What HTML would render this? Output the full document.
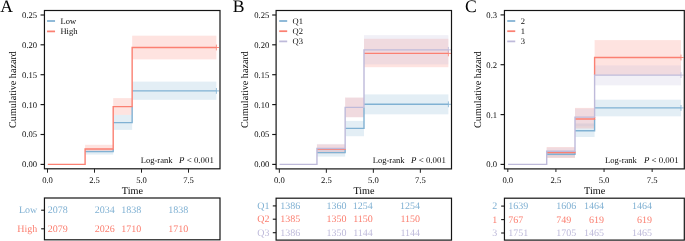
<!DOCTYPE html>
<html><head><meta charset="utf-8"><title>Cumulative hazard</title>
<style>
html,body{margin:0;padding:0;background:#fff;}
body{width:685px;height:241px;overflow:hidden;font-family:"Liberation Serif",serif;}
svg{display:block;will-change:transform;transform:translateZ(0);}
text{text-rendering:geometricPrecision;}
</style></head><body>
<svg width="685" height="241" viewBox="0 0 685 241">
<rect x="0" y="0" width="685" height="241" fill="#ffffff"/>
<rect x="85.10" y="149.00" width="28.10" height="5.60" fill="#80B1D3" fill-opacity="0.22"/>
<rect x="113.20" y="114.90" width="18.95" height="15.00" fill="#80B1D3" fill-opacity="0.22"/>
<rect x="132.15" y="81.60" width="84.25" height="18.20" fill="#80B1D3" fill-opacity="0.22"/>
<rect x="85.10" y="144.80" width="28.10" height="6.80" fill="#FB8072" fill-opacity="0.22"/>
<rect x="113.20" y="98.10" width="18.95" height="16.80" fill="#FB8072" fill-opacity="0.22"/>
<rect x="132.15" y="35.70" width="84.25" height="23.70" fill="#FB8072" fill-opacity="0.22"/>
<path d="M85.10,151.60 H113.20 V148.95 M113.20,122.60 H132.15 V106.60 M132.15,90.90 H216.40" fill="none" stroke="#80B1D3" stroke-width="1.4" stroke-linejoin="miter"/>
<line x1="216.40" x2="216.40" y1="88.00" y2="93.80" stroke="#80B1D3" stroke-width="0.8"/>
<line x1="216.40" x2="219.00" y1="90.90" y2="90.90" stroke="#80B1D3" stroke-width="0.9"/>
<path d="M47.80,164.40 H85.10 V148.95 H113.20 V106.60 H132.15 V47.50 H216.40" fill="none" stroke="#FB8072" stroke-width="1.4" stroke-linejoin="miter"/>
<line x1="216.40" x2="216.40" y1="44.60" y2="50.40" stroke="#FB8072" stroke-width="0.8"/>
<line x1="216.40" x2="219.00" y1="47.50" y2="47.50" stroke="#FB8072" stroke-width="0.9"/>
<rect x="44.45" y="10.50" width="175.55" height="158.30" fill="none" stroke="#151515" stroke-width="1.2"/>
<line x1="40.55" x2="44.45" y1="15.00" y2="15.00" stroke="#151515" stroke-width="1.15"/>
<text x="37.15" y="17.90" text-anchor="end" font-size="8.6" fill="#0a0a0a" font-family="Liberation Serif, serif">0.25</text>
<line x1="40.55" x2="44.45" y1="44.80" y2="44.80" stroke="#151515" stroke-width="1.15"/>
<text x="37.15" y="47.70" text-anchor="end" font-size="8.6" fill="#0a0a0a" font-family="Liberation Serif, serif">0.20</text>
<line x1="40.55" x2="44.45" y1="74.70" y2="74.70" stroke="#151515" stroke-width="1.15"/>
<text x="37.15" y="77.60" text-anchor="end" font-size="8.6" fill="#0a0a0a" font-family="Liberation Serif, serif">0.15</text>
<line x1="40.55" x2="44.45" y1="104.60" y2="104.60" stroke="#151515" stroke-width="1.15"/>
<text x="37.15" y="107.50" text-anchor="end" font-size="8.6" fill="#0a0a0a" font-family="Liberation Serif, serif">0.10</text>
<line x1="40.55" x2="44.45" y1="134.50" y2="134.50" stroke="#151515" stroke-width="1.15"/>
<text x="37.15" y="137.40" text-anchor="end" font-size="8.6" fill="#0a0a0a" font-family="Liberation Serif, serif">0.05</text>
<line x1="40.55" x2="44.45" y1="164.40" y2="164.40" stroke="#151515" stroke-width="1.15"/>
<text x="37.15" y="167.30" text-anchor="end" font-size="8.6" fill="#0a0a0a" font-family="Liberation Serif, serif">0.00</text>
<line x1="47.50" x2="47.50" y1="168.80" y2="172.70" stroke="#222" stroke-width="1.0"/>
<text x="47.50" y="182.7" text-anchor="middle" font-size="8.6" fill="#0a0a0a" font-family="Liberation Serif, serif">0.0</text>
<line x1="94.50" x2="94.50" y1="168.80" y2="172.70" stroke="#222" stroke-width="1.0"/>
<text x="94.50" y="182.7" text-anchor="middle" font-size="8.6" fill="#0a0a0a" font-family="Liberation Serif, serif">2.5</text>
<line x1="141.50" x2="141.50" y1="168.80" y2="172.70" stroke="#222" stroke-width="1.0"/>
<text x="141.50" y="182.7" text-anchor="middle" font-size="8.6" fill="#0a0a0a" font-family="Liberation Serif, serif">5.0</text>
<line x1="188.50" x2="188.50" y1="168.80" y2="172.70" stroke="#222" stroke-width="1.0"/>
<text x="188.50" y="182.7" text-anchor="middle" font-size="8.6" fill="#0a0a0a" font-family="Liberation Serif, serif">7.5</text>
<text x="132.40" y="194.2" text-anchor="middle" font-size="10.2" fill="#050505" font-family="Liberation Serif, serif">Time</text>
<text transform="translate(15.95,89.55) rotate(-90)" text-anchor="middle" font-size="10.15" fill="#050505" font-family="Liberation Serif, serif">Cumulative hazard</text>
<text x="0.20" y="12.3" font-size="17.6" fill="#050505" font-family="Liberation Serif, serif">A</text>
<line x1="47.05" x2="55.05" y1="21.00" y2="21.00" stroke="#80B1D3" stroke-width="1.75"/>
<text x="60.45" y="23.90" font-size="8.5" fill="#0a0a0a" font-family="Liberation Serif, serif">Low</text>
<line x1="47.05" x2="55.05" y1="31.40" y2="31.40" stroke="#FB8072" stroke-width="1.75"/>
<text x="60.45" y="34.30" font-size="8.5" fill="#0a0a0a" font-family="Liberation Serif, serif">High</text>
<text x="140.70" y="162.5" font-size="8.55" fill="#0a0a0a" font-family="Liberation Serif, serif">Log-rank</text>
<text x="179.10" y="162.5" font-size="8.85" fill="#0a0a0a" font-family="Liberation Serif, serif"><tspan font-style="italic">P</tspan> &lt; 0.001</text>
<rect x="44.45" y="198.00" width="175.55" height="41.80" fill="none" stroke="#151515" stroke-width="1.2"/>
<line x1="41.15" x2="44.45" y1="210.20" y2="210.20" stroke="#151515" stroke-width="1.1"/>
<text x="37.25" y="213.40" text-anchor="end" font-size="10" fill="#80B1D3" font-family="Liberation Serif, serif">Low</text>
<text x="47.70" y="213.40" text-anchor="start" font-size="10" fill="#80B1D3" font-family="Liberation Serif, serif">2078</text>
<text x="94.70" y="213.40" text-anchor="start" font-size="10" fill="#80B1D3" font-family="Liberation Serif, serif">2034</text>
<text x="141.30" y="213.40" text-anchor="end" font-size="10" fill="#80B1D3" font-family="Liberation Serif, serif">1838</text>
<text x="188.30" y="213.40" text-anchor="end" font-size="10" fill="#80B1D3" font-family="Liberation Serif, serif">1838</text>
<line x1="41.15" x2="44.45" y1="228.80" y2="228.80" stroke="#151515" stroke-width="1.1"/>
<text x="37.25" y="232.00" text-anchor="end" font-size="10" fill="#FB8072" font-family="Liberation Serif, serif">High</text>
<text x="47.70" y="232.00" text-anchor="start" font-size="10" fill="#FB8072" font-family="Liberation Serif, serif">2079</text>
<text x="94.70" y="232.00" text-anchor="start" font-size="10" fill="#FB8072" font-family="Liberation Serif, serif">2026</text>
<text x="141.30" y="232.00" text-anchor="end" font-size="10" fill="#FB8072" font-family="Liberation Serif, serif">1710</text>
<text x="188.30" y="232.00" text-anchor="end" font-size="10" fill="#FB8072" font-family="Liberation Serif, serif">1710</text>
<rect x="316.95" y="149.20" width="28.20" height="7.40" fill="#80B1D3" fill-opacity="0.22"/>
<rect x="345.15" y="120.90" width="18.85" height="15.30" fill="#80B1D3" fill-opacity="0.22"/>
<rect x="364.00" y="94.40" width="84.40" height="19.90" fill="#80B1D3" fill-opacity="0.22"/>
<rect x="316.95" y="144.50" width="28.20" height="8.90" fill="#FB8072" fill-opacity="0.22"/>
<rect x="345.15" y="97.60" width="18.85" height="19.60" fill="#FB8072" fill-opacity="0.22"/>
<rect x="364.00" y="38.80" width="84.40" height="28.40" fill="#FB8072" fill-opacity="0.22"/>
<rect x="316.95" y="143.90" width="28.20" height="8.70" fill="#BEBADA" fill-opacity="0.22"/>
<rect x="345.15" y="97.60" width="18.85" height="19.60" fill="#BEBADA" fill-opacity="0.22"/>
<rect x="364.00" y="35.20" width="84.40" height="29.10" fill="#BEBADA" fill-opacity="0.22"/>
<path d="M316.95,152.65 H345.15 V149.40 M345.15,128.40 H364.00 V107.40 M364.00,104.30 H448.40" fill="none" stroke="#80B1D3" stroke-width="1.4" stroke-linejoin="miter"/>
<line x1="448.40" x2="448.40" y1="101.40" y2="107.20" stroke="#80B1D3" stroke-width="0.8"/>
<line x1="448.40" x2="451.00" y1="104.30" y2="104.30" stroke="#80B1D3" stroke-width="0.9"/>
<path d="M316.95,149.40 H345.15 V148.45 M364.00,53.40 H448.40" fill="none" stroke="#FB8072" stroke-width="1.4" stroke-linejoin="miter"/>
<line x1="448.40" x2="448.40" y1="50.50" y2="56.30" stroke="#FB8072" stroke-width="0.8"/>
<line x1="448.40" x2="451.00" y1="53.40" y2="53.40" stroke="#FB8072" stroke-width="0.9"/>
<path d="M279.60,164.40 H316.95 V148.45 H345.15 V107.40 H364.00 V49.85 H448.40" fill="none" stroke="#BEBADA" stroke-width="1.4" stroke-linejoin="miter"/>
<line x1="448.40" x2="448.40" y1="46.95" y2="52.75" stroke="#BEBADA" stroke-width="0.8"/>
<line x1="448.40" x2="451.00" y1="49.85" y2="49.85" stroke="#BEBADA" stroke-width="0.9"/>
<rect x="276.10" y="10.50" width="175.40" height="158.40" fill="none" stroke="#151515" stroke-width="1.2"/>
<line x1="272.20" x2="276.10" y1="15.00" y2="15.00" stroke="#151515" stroke-width="1.15"/>
<text x="269.30" y="17.90" text-anchor="end" font-size="8.6" fill="#0a0a0a" font-family="Liberation Serif, serif">0.25</text>
<line x1="272.20" x2="276.10" y1="44.80" y2="44.80" stroke="#151515" stroke-width="1.15"/>
<text x="269.30" y="47.70" text-anchor="end" font-size="8.6" fill="#0a0a0a" font-family="Liberation Serif, serif">0.20</text>
<line x1="272.20" x2="276.10" y1="74.70" y2="74.70" stroke="#151515" stroke-width="1.15"/>
<text x="269.30" y="77.60" text-anchor="end" font-size="8.6" fill="#0a0a0a" font-family="Liberation Serif, serif">0.15</text>
<line x1="272.20" x2="276.10" y1="104.60" y2="104.60" stroke="#151515" stroke-width="1.15"/>
<text x="269.30" y="107.50" text-anchor="end" font-size="8.6" fill="#0a0a0a" font-family="Liberation Serif, serif">0.10</text>
<line x1="272.20" x2="276.10" y1="134.50" y2="134.50" stroke="#151515" stroke-width="1.15"/>
<text x="269.30" y="137.40" text-anchor="end" font-size="8.6" fill="#0a0a0a" font-family="Liberation Serif, serif">0.05</text>
<line x1="272.20" x2="276.10" y1="164.40" y2="164.40" stroke="#151515" stroke-width="1.15"/>
<text x="269.30" y="167.30" text-anchor="end" font-size="8.6" fill="#0a0a0a" font-family="Liberation Serif, serif">0.00</text>
<line x1="279.35" x2="279.35" y1="168.90" y2="172.80" stroke="#222" stroke-width="1.0"/>
<text x="279.35" y="182.7" text-anchor="middle" font-size="8.6" fill="#0a0a0a" font-family="Liberation Serif, serif">0.0</text>
<line x1="326.35" x2="326.35" y1="168.90" y2="172.80" stroke="#222" stroke-width="1.0"/>
<text x="326.35" y="182.7" text-anchor="middle" font-size="8.6" fill="#0a0a0a" font-family="Liberation Serif, serif">2.5</text>
<line x1="373.35" x2="373.35" y1="168.90" y2="172.80" stroke="#222" stroke-width="1.0"/>
<text x="373.35" y="182.7" text-anchor="middle" font-size="8.6" fill="#0a0a0a" font-family="Liberation Serif, serif">5.0</text>
<line x1="420.35" x2="420.35" y1="168.90" y2="172.80" stroke="#222" stroke-width="1.0"/>
<text x="420.35" y="182.7" text-anchor="middle" font-size="8.6" fill="#0a0a0a" font-family="Liberation Serif, serif">7.5</text>
<text x="364.00" y="194.2" text-anchor="middle" font-size="10.2" fill="#050505" font-family="Liberation Serif, serif">Time</text>
<text transform="translate(247.50,89.55) rotate(-90)" text-anchor="middle" font-size="10.15" fill="#050505" font-family="Liberation Serif, serif">Cumulative hazard</text>
<text x="232.80" y="12.3" font-size="17.6" fill="#050505" font-family="Liberation Serif, serif">B</text>
<line x1="279.20" x2="287.20" y1="21.00" y2="21.00" stroke="#80B1D3" stroke-width="1.75"/>
<text x="292.60" y="23.90" font-size="8.5" fill="#0a0a0a" font-family="Liberation Serif, serif">Q1</text>
<line x1="279.20" x2="287.20" y1="31.20" y2="31.20" stroke="#FB8072" stroke-width="1.75"/>
<text x="292.60" y="34.10" font-size="8.5" fill="#0a0a0a" font-family="Liberation Serif, serif">Q2</text>
<line x1="279.20" x2="287.20" y1="41.40" y2="41.40" stroke="#BEBADA" stroke-width="1.75"/>
<text x="292.60" y="44.30" font-size="8.5" fill="#0a0a0a" font-family="Liberation Serif, serif">Q3</text>
<text x="372.70" y="162.5" font-size="8.55" fill="#0a0a0a" font-family="Liberation Serif, serif">Log-rank</text>
<text x="411.10" y="162.5" font-size="8.85" fill="#0a0a0a" font-family="Liberation Serif, serif"><tspan font-style="italic">P</tspan> &lt; 0.001</text>
<rect x="276.10" y="198.20" width="175.40" height="41.90" fill="none" stroke="#151515" stroke-width="1.2"/>
<line x1="272.80" x2="276.10" y1="205.90" y2="205.90" stroke="#151515" stroke-width="1.1"/>
<text x="269.40" y="209.10" text-anchor="end" font-size="10" fill="#80B1D3" font-family="Liberation Serif, serif">Q1</text>
<text x="280.30" y="209.10" text-anchor="start" font-size="10" fill="#80B1D3" font-family="Liberation Serif, serif">1386</text>
<text x="326.60" y="209.10" text-anchor="start" font-size="10" fill="#80B1D3" font-family="Liberation Serif, serif">1360</text>
<text x="372.80" y="209.10" text-anchor="end" font-size="10" fill="#80B1D3" font-family="Liberation Serif, serif">1254</text>
<text x="420.10" y="209.10" text-anchor="end" font-size="10" fill="#80B1D3" font-family="Liberation Serif, serif">1254</text>
<line x1="272.80" x2="276.10" y1="219.20" y2="219.20" stroke="#151515" stroke-width="1.1"/>
<text x="269.40" y="222.40" text-anchor="end" font-size="10" fill="#FB8072" font-family="Liberation Serif, serif">Q2</text>
<text x="280.30" y="222.40" text-anchor="start" font-size="10" fill="#FB8072" font-family="Liberation Serif, serif">1385</text>
<text x="326.60" y="222.40" text-anchor="start" font-size="10" fill="#FB8072" font-family="Liberation Serif, serif">1350</text>
<text x="372.80" y="222.40" text-anchor="end" font-size="10" fill="#FB8072" font-family="Liberation Serif, serif">1150</text>
<text x="420.10" y="222.40" text-anchor="end" font-size="10" fill="#FB8072" font-family="Liberation Serif, serif">1150</text>
<line x1="272.80" x2="276.10" y1="232.70" y2="232.70" stroke="#151515" stroke-width="1.1"/>
<text x="269.40" y="235.90" text-anchor="end" font-size="10" fill="#BEBADA" font-family="Liberation Serif, serif">Q3</text>
<text x="280.30" y="235.90" text-anchor="start" font-size="10" fill="#BEBADA" font-family="Liberation Serif, serif">1386</text>
<text x="326.60" y="235.90" text-anchor="start" font-size="10" fill="#BEBADA" font-family="Liberation Serif, serif">1350</text>
<text x="372.80" y="235.90" text-anchor="end" font-size="10" fill="#BEBADA" font-family="Liberation Serif, serif">1144</text>
<text x="420.10" y="235.90" text-anchor="end" font-size="10" fill="#BEBADA" font-family="Liberation Serif, serif">1144</text>
<rect x="546.70" y="151.00" width="28.30" height="6.60" fill="#80B1D3" fill-opacity="0.22"/>
<rect x="575.00" y="123.50" width="19.60" height="13.50" fill="#80B1D3" fill-opacity="0.22"/>
<rect x="594.60" y="99.70" width="86.40" height="16.60" fill="#80B1D3" fill-opacity="0.22"/>
<rect x="546.70" y="147.00" width="28.30" height="11.00" fill="#FB8072" fill-opacity="0.22"/>
<rect x="575.00" y="107.90" width="19.60" height="20.60" fill="#FB8072" fill-opacity="0.22"/>
<rect x="594.60" y="40.10" width="86.40" height="34.80" fill="#FB8072" fill-opacity="0.22"/>
<rect x="546.70" y="147.50" width="28.30" height="8.00" fill="#BEBADA" fill-opacity="0.22"/>
<rect x="575.00" y="108.50" width="19.60" height="17.70" fill="#BEBADA" fill-opacity="0.22"/>
<rect x="594.60" y="65.40" width="86.40" height="19.90" fill="#BEBADA" fill-opacity="0.22"/>
<path d="M546.70,154.30 H575.00 V152.60 M575.00,130.80 H594.60 V119.00 M594.60,107.90 H681.00" fill="none" stroke="#80B1D3" stroke-width="1.4" stroke-linejoin="miter"/>
<line x1="681.00" x2="681.00" y1="105.00" y2="110.80" stroke="#80B1D3" stroke-width="0.8"/>
<line x1="681.00" x2="683.60" y1="107.90" y2="107.90" stroke="#80B1D3" stroke-width="0.9"/>
<path d="M546.70,152.60 H575.00 V151.20 M575.00,119.00 H594.60 V117.10 M594.60,75.10 V57.50 H681.00" fill="none" stroke="#FB8072" stroke-width="1.4" stroke-linejoin="miter"/>
<line x1="681.00" x2="681.00" y1="54.60" y2="60.40" stroke="#FB8072" stroke-width="0.8"/>
<line x1="681.00" x2="683.60" y1="57.50" y2="57.50" stroke="#FB8072" stroke-width="0.9"/>
<path d="M508.10,164.40 H546.70 V151.20 H575.00 V117.10 H594.60 V75.10 H681.00" fill="none" stroke="#BEBADA" stroke-width="1.4" stroke-linejoin="miter"/>
<line x1="681.00" x2="681.00" y1="72.20" y2="78.00" stroke="#BEBADA" stroke-width="0.8"/>
<line x1="681.00" x2="683.60" y1="75.10" y2="75.10" stroke="#BEBADA" stroke-width="0.9"/>
<rect x="504.45" y="10.50" width="179.85" height="158.40" fill="none" stroke="#151515" stroke-width="1.2"/>
<line x1="500.55" x2="504.45" y1="14.90" y2="14.90" stroke="#151515" stroke-width="1.15"/>
<text x="497.10" y="17.80" text-anchor="end" font-size="8.6" fill="#0a0a0a" font-family="Liberation Serif, serif">0.3</text>
<line x1="500.55" x2="504.45" y1="64.70" y2="64.70" stroke="#151515" stroke-width="1.15"/>
<text x="497.10" y="67.60" text-anchor="end" font-size="8.6" fill="#0a0a0a" font-family="Liberation Serif, serif">0.2</text>
<line x1="500.55" x2="504.45" y1="114.60" y2="114.60" stroke="#151515" stroke-width="1.15"/>
<text x="497.10" y="117.50" text-anchor="end" font-size="8.6" fill="#0a0a0a" font-family="Liberation Serif, serif">0.1</text>
<line x1="500.55" x2="504.45" y1="164.40" y2="164.40" stroke="#151515" stroke-width="1.15"/>
<text x="497.10" y="167.30" text-anchor="end" font-size="8.6" fill="#0a0a0a" font-family="Liberation Serif, serif">0.0</text>
<line x1="507.80" x2="507.80" y1="168.90" y2="172.00" stroke="#222" stroke-width="1.0"/>
<text x="507.80" y="182.7" text-anchor="middle" font-size="8.6" fill="#0a0a0a" font-family="Liberation Serif, serif">0.0</text>
<line x1="555.92" x2="555.92" y1="168.90" y2="172.00" stroke="#222" stroke-width="1.0"/>
<text x="555.92" y="182.7" text-anchor="middle" font-size="8.6" fill="#0a0a0a" font-family="Liberation Serif, serif">2.5</text>
<line x1="604.05" x2="604.05" y1="168.90" y2="172.00" stroke="#222" stroke-width="1.0"/>
<text x="604.05" y="182.7" text-anchor="middle" font-size="8.6" fill="#0a0a0a" font-family="Liberation Serif, serif">5.0</text>
<line x1="652.17" x2="652.17" y1="168.90" y2="172.00" stroke="#222" stroke-width="1.0"/>
<text x="652.17" y="182.7" text-anchor="middle" font-size="8.6" fill="#0a0a0a" font-family="Liberation Serif, serif">7.5</text>
<text x="594.67" y="194.2" text-anchor="middle" font-size="10.2" fill="#050505" font-family="Liberation Serif, serif">Time</text>
<text transform="translate(480.70,89.55) rotate(-90)" text-anchor="middle" font-size="10.15" fill="#050505" font-family="Liberation Serif, serif">Cumulative hazard</text>
<text x="465.00" y="12.3" font-size="17.6" fill="#050505" font-family="Liberation Serif, serif">C</text>
<line x1="507.25" x2="515.25" y1="21.00" y2="21.00" stroke="#80B1D3" stroke-width="1.75"/>
<text x="520.65" y="23.90" font-size="8.5" fill="#0a0a0a" font-family="Liberation Serif, serif">2</text>
<line x1="507.25" x2="515.25" y1="31.20" y2="31.20" stroke="#FB8072" stroke-width="1.75"/>
<text x="520.65" y="34.10" font-size="8.5" fill="#0a0a0a" font-family="Liberation Serif, serif">1</text>
<line x1="507.25" x2="515.25" y1="41.40" y2="41.40" stroke="#BEBADA" stroke-width="1.75"/>
<text x="520.65" y="44.30" font-size="8.5" fill="#0a0a0a" font-family="Liberation Serif, serif">3</text>
<text x="605.10" y="162.5" font-size="8.55" fill="#0a0a0a" font-family="Liberation Serif, serif">Log-rank</text>
<text x="643.90" y="162.5" font-size="8.85" fill="#0a0a0a" font-family="Liberation Serif, serif"><tspan font-style="italic">P</tspan> &lt; 0.001</text>
<rect x="504.45" y="198.20" width="179.85" height="41.90" fill="none" stroke="#151515" stroke-width="1.2"/>
<line x1="501.15" x2="504.45" y1="206.10" y2="206.10" stroke="#151515" stroke-width="1.1"/>
<text x="497.20" y="209.30" text-anchor="end" font-size="10" fill="#80B1D3" font-family="Liberation Serif, serif">2</text>
<text x="508.30" y="209.30" text-anchor="start" font-size="10" fill="#80B1D3" font-family="Liberation Serif, serif">1639</text>
<text x="556.14" y="209.30" text-anchor="start" font-size="10" fill="#80B1D3" font-family="Liberation Serif, serif">1606</text>
<text x="603.90" y="209.30" text-anchor="end" font-size="10" fill="#80B1D3" font-family="Liberation Serif, serif">1464</text>
<text x="651.94" y="209.30" text-anchor="end" font-size="10" fill="#80B1D3" font-family="Liberation Serif, serif">1464</text>
<line x1="501.15" x2="504.45" y1="219.60" y2="219.60" stroke="#151515" stroke-width="1.1"/>
<text x="497.20" y="222.80" text-anchor="end" font-size="10" fill="#FB8072" font-family="Liberation Serif, serif">1</text>
<text x="508.30" y="222.80" text-anchor="start" font-size="10" fill="#FB8072" font-family="Liberation Serif, serif">767</text>
<text x="556.14" y="222.80" text-anchor="start" font-size="10" fill="#FB8072" font-family="Liberation Serif, serif">749</text>
<text x="603.90" y="222.80" text-anchor="end" font-size="10" fill="#FB8072" font-family="Liberation Serif, serif">619</text>
<text x="651.94" y="222.80" text-anchor="end" font-size="10" fill="#FB8072" font-family="Liberation Serif, serif">619</text>
<line x1="501.15" x2="504.45" y1="233.00" y2="233.00" stroke="#151515" stroke-width="1.1"/>
<text x="497.20" y="236.20" text-anchor="end" font-size="10" fill="#BEBADA" font-family="Liberation Serif, serif">3</text>
<text x="508.30" y="236.20" text-anchor="start" font-size="10" fill="#BEBADA" font-family="Liberation Serif, serif">1751</text>
<text x="556.14" y="236.20" text-anchor="start" font-size="10" fill="#BEBADA" font-family="Liberation Serif, serif">1705</text>
<text x="603.90" y="236.20" text-anchor="end" font-size="10" fill="#BEBADA" font-family="Liberation Serif, serif">1465</text>
<text x="651.94" y="236.20" text-anchor="end" font-size="10" fill="#BEBADA" font-family="Liberation Serif, serif">1465</text>
</svg>
</body></html>
